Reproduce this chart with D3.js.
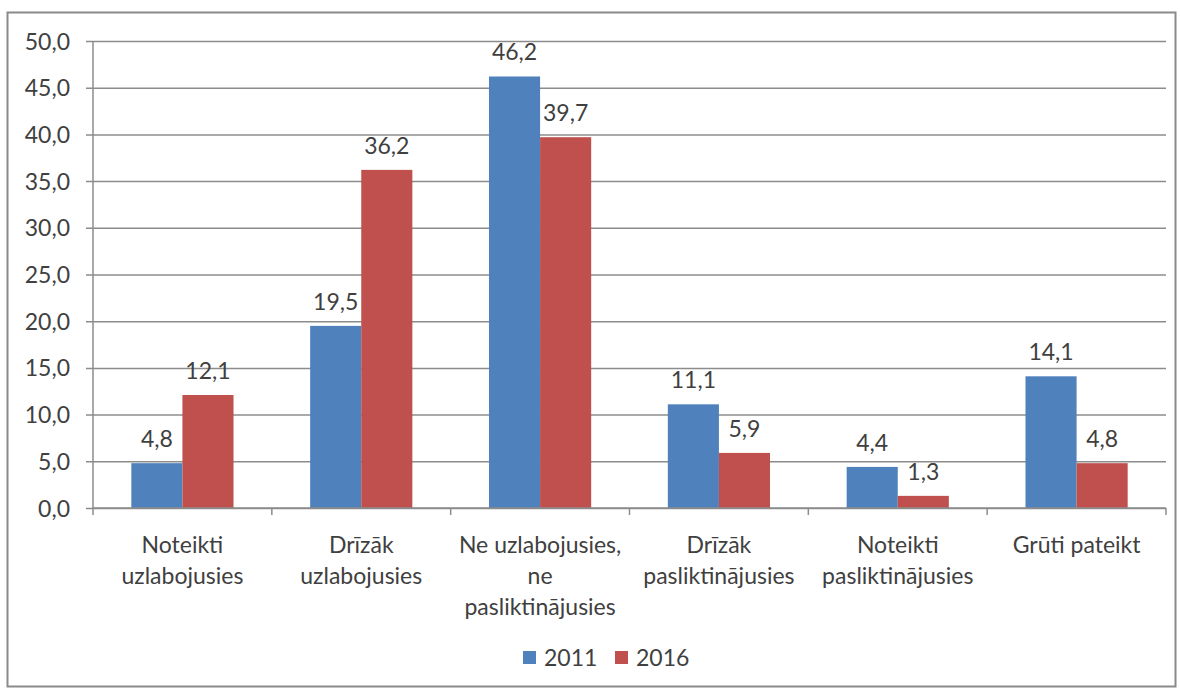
<!DOCTYPE html>
<html><head><meta charset="utf-8">
<script src="https://cdn.jsdelivr.net/npm/d3@7"></script>
<style>body{margin:0;background:#fff}svg{display:block}text{font-family:Lato,"Open Sans",sans-serif;fill:#404040}</style>
</head><body><svg id="c" width="1180" height="691"></svg>
<script>
const categories = [["Noteikti","uzlabojusies"],["Drīzāk","uzlabojusies"],["Ne uzlabojusies,","ne","pasliktinājusies"],["Drīzāk","pasliktinājusies"],["Noteikti","pasliktinājusies"],["Grūti pateikt"]];
const seriesNames = ["2011","2016"];
const values2011 = [4.8,19.5,46.2,11.1,4.4,14.1];
const values2016 = [12.1,36.2,39.7,5.9,1.3,4.8];
const yTicks = [0,5,10,15,20,25,30,35,40,45,50];
const colors = ["#4F81BD","#C0504D"];
const fmt = v => v.toFixed(1).replace(".", ",");

const svg = d3.select("#c");
const fs = 23;
svg.append("rect").attr("x",7.5).attr("y",12.5).attr("width",1168).attr("height",674)
  .attr("fill","#fff").attr("stroke","#8a8a8a").attr("stroke-width",2);

const L=93, R=1166, T=41, B=508;
const idx = categories.map((d,i)=>i);
const x = d3.scaleBand().domain(idx).range([L,R]).paddingInner(0).paddingOuter(0);
const y = d3.scaleLinear().domain([0,50]).range([B,T]);
const bw = x.bandwidth()/3.5;
const x1 = d3.scaleBand().domain([0,1]).range([0,2*bw]);

// gridlines + y axis
const yAxis = d3.axisLeft(y).tickValues(yTicks).tickFormat(fmt).tickSize(-(R-L)).tickPadding(0);
const gy = svg.append("g").attr("transform",`translate(${L},0)`).call(yAxis);
gy.select(".domain").remove();
gy.selectAll(".tick line").attr("stroke","#8c8c8c").attr("stroke-width",1.5).attr("x1",-7);
gy.selectAll(".tick text").attr("x",-23).attr("dy","0.35em").style("font-size",fs+"px").style("font-family","Lato").attr("fill","#404040");
svg.append("line").attr("x1",L).attr("x2",L).attr("y1",T).attr("y2",B).attr("stroke","#8c8c8c").attr("stroke-width",1.5);

// bars
const data = [values2011, values2016];
data.forEach((vals,s)=>{
  const g = svg.append("g");
  g.selectAll("rect").data(vals).join("rect")
    .attr("x",(d,i)=>x(i)+(x.bandwidth()-2*bw)/2+x1(s))
    .attr("y",d=>y(d)).attr("width",x1.bandwidth()).attr("height",d=>B-y(d))
    .attr("fill",colors[s]);
  g.selectAll("text").data(vals).join("text")
    .attr("x",(d,i)=>x(i)+(x.bandwidth()-2*bw)/2+x1(s)+x1.bandwidth()/2)
    .attr("y",d=>y(d)-16).attr("text-anchor","middle").style("font-size",fs+"px").text(fmt);
});

// x axis
const xAxis = d3.axisBottom(x).tickSize(0).tickFormat("");
const gx = svg.append("g").attr("transform",`translate(0,${B})`).call(xAxis);
gx.select(".domain").remove();
svg.append("line").attr("x1",L).attr("x2",R).attr("y1",B).attr("y2",B).attr("stroke","#8c8c8c").attr("stroke-width",1.5);
svg.append("g").selectAll("line").data(d3.range(categories.length+1)).join("line")
  .attr("x1",i=>L+i*x.step()).attr("x2",i=>L+i*x.step()).attr("y1",B).attr("y2",B+7)
  .attr("stroke","#8c8c8c").attr("stroke-width",1.5);
svg.append("g").selectAll("text").data(categories).join("text")
  .attr("text-anchor","middle").style("font-size",fs+"px")
  .attr("transform",(d,i)=>`translate(${x(i)+x.bandwidth()/2},545)`)
  .each(function(lines){
    d3.select(this).selectAll("tspan").data(lines).join("tspan")
      .attr("x",0).attr("y",(l,j)=>j*31).attr("dy","0.35em").text(l=>l);
  });

// legend
const lg = svg.append("g");
const legX = [523,615];
seriesNames.forEach((n,s)=>{
  lg.append("rect").attr("x",legX[s]).attr("y",651).attr("width",13).attr("height",13).attr("fill",colors[s]);
  lg.append("text").attr("x",legX[s]+21).attr("y",658).attr("dy","0.35em").style("font-size",fs+"px").text(n);
});
</script></body></html>
